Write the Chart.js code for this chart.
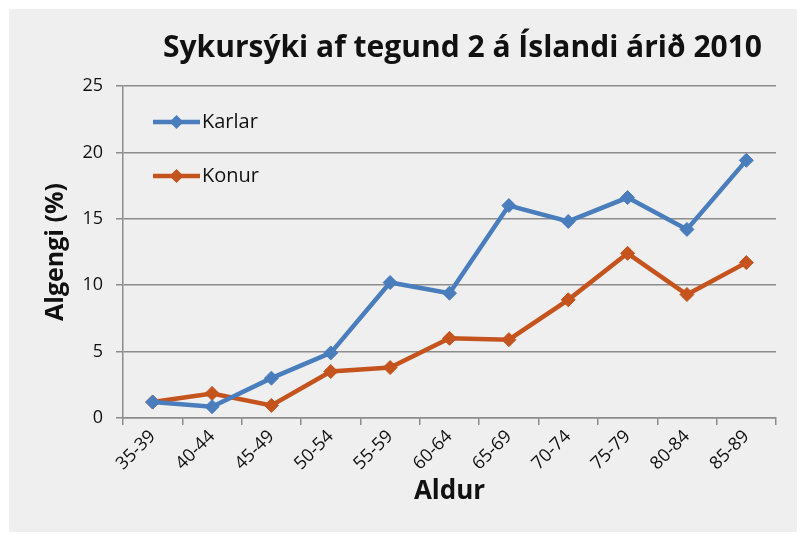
<!DOCTYPE html>
<html>
<head>
<meta charset="utf-8">
<script src="https://cdn.jsdelivr.net/npm/chart.js@4.4.1/dist/chart.umd.min.js"></script>
<style>
  html, body { margin: 0; padding: 0; background: #ffffff; }
  #wrap { position: relative; width: 802px; height: 537px; }
  canvas { display: block; }
</style>
</head>
<body>
<div id="wrap"><canvas id="c" width="802" height="537"></canvas></div>
<script>
const categories = ["35-39","40-44","45-49","50-54","55-59","60-64","65-69","70-74","75-79","80-84","85-89"];
const karlar = [1.2, 0.85, 3.0, 4.9, 10.2, 9.4, 16.0, 14.8, 16.6, 14.2, 19.4];
const konur  = [1.2, 1.85, 0.95, 3.5, 3.8, 6.0, 5.9, 8.9, 12.4, 9.3, 11.7];
const seriesNames = ["Karlar", "Konur"];
const titleText = "Sykursýki af tegund 2 á Íslandi árið 2010";
const yTitle = "Algengi (%)";
const xTitle = "Aldur";

const BLUE = "#4a7dbc";
const ORANGE = "#c5531d";
const GRID = "#8c8c8c";
const FONT = "'Open Sans', Lato, sans-serif";

const bgPlugin = {
  id: 'bg',
  beforeDraw(chart) {
    const ctx = chart.ctx;
    ctx.save();
    ctx.fillStyle = '#ffffff';
    ctx.fillRect(0, 0, chart.width, chart.height);
    ctx.fillStyle = '#efefef';
    ctx.fillRect(9, 9, chart.width - 14, chart.height - 14);
    ctx.restore();
  }
};

const titlePlugin = {
  id: 'customTitle',
  afterDraw(chart) {
    const ctx = chart.ctx;
    const a = chart.chartArea;
    ctx.save();
    ctx.font = "bold 30px " + FONT;
    ctx.fillStyle = "#111111";
    ctx.textAlign = "center";
    ctx.textBaseline = "alphabetic";
    ctx.fillText(titleText, (a.left + a.right) / 2 + 13, 57);
    ctx.restore();
  }
};

const legendPlugin = {
  id: 'insideLegend',
  afterDraw(chart) {
    const ctx = chart.ctx;
    const a = chart.chartArea;
    ctx.save();
    chart.data.datasets.forEach((ds, i) => {
      const y = a.top + 36 + i * 54;
      const x0 = a.left + 30, x1 = a.left + 77;
      ctx.strokeStyle = ds.borderColor;
      ctx.lineWidth = 4.5;
      ctx.beginPath(); ctx.moveTo(x0, y); ctx.lineTo(x1, y); ctx.stroke();
      const mx = (x0 + x1) / 2, r = 7;
      ctx.fillStyle = ds.pointBackgroundColor;
      ctx.beginPath();
      ctx.moveTo(mx, y - r); ctx.lineTo(mx + r, y); ctx.lineTo(mx, y + r); ctx.lineTo(mx - r, y);
      ctx.closePath(); ctx.fill();
      ctx.font = "20px " + FONT;
      ctx.fillStyle = "#111111";
      ctx.textAlign = "left";
      ctx.textBaseline = "middle";
      ctx.fillText(ds.label, x1 + 2, y);
    });
    ctx.restore();
  }
};

new Chart(document.getElementById('c'), {
  type: 'line',
  data: {
    labels: categories,
    datasets: [
      { label: seriesNames[0], data: karlar, borderColor: BLUE, backgroundColor: BLUE,
        pointBackgroundColor: BLUE, pointBorderColor: BLUE, borderWidth: 4.5,
        pointStyle: 'rectRot', pointRadius: 7, pointBorderWidth: 1, tension: 0 },
      { label: seriesNames[1], data: konur, borderColor: ORANGE, backgroundColor: ORANGE,
        pointBackgroundColor: ORANGE, pointBorderColor: ORANGE, borderWidth: 4.5,
        pointStyle: 'rectRot', pointRadius: 7, pointBorderWidth: 1, tension: 0 }
    ]
  },
  options: {
    responsive: false,
    animation: false,
    layout: { padding: { left: 0, right: 26, top: 86, bottom: 0 } },
    plugins: {
      legend: { display: false },
      title: { display: false },
      tooltip: { enabled: false }
    },
    scales: {
      x: {
        offset: true,
        grid: { display: true, drawOnChartArea: false, drawTicks: true, tickLength: 7,
                offset: true, color: GRID, lineWidth: 1.5 },
        border: { display: true, color: GRID, width: 1.5 },
        ticks: { minRotation: 45, maxRotation: 45, autoSkip: false, padding: 1,
                 color: "#111111", font: { family: FONT, size: 18 } },
        title: { display: true, text: xTitle, color: "#111111",
                 font: { family: FONT, size: 26, weight: 'bold' }, padding: { top: 0, bottom: 30 } },
        afterFit(scale) { scale.height = 119; }
      },
      y: {
        min: 0, max: 25,
        ticks: { stepSize: 5, padding: 13, color: "#111111", font: { family: FONT, size: 18 } },
        grid: { color: GRID, lineWidth: 1.5, drawTicks: true, tickLength: 7 },
        border: { display: true, color: GRID, width: 1.5 },
        title: { display: true, text: yTitle, color: "#111111",
                 font: { family: FONT, size: 25, weight: 'bold' }, padding: { top: 41, bottom: 0 } },
        afterFit(scale) { scale.width = 123; }
      }
    }
  },
  plugins: [bgPlugin, titlePlugin, legendPlugin]
});
</script>
</body>
</html>
